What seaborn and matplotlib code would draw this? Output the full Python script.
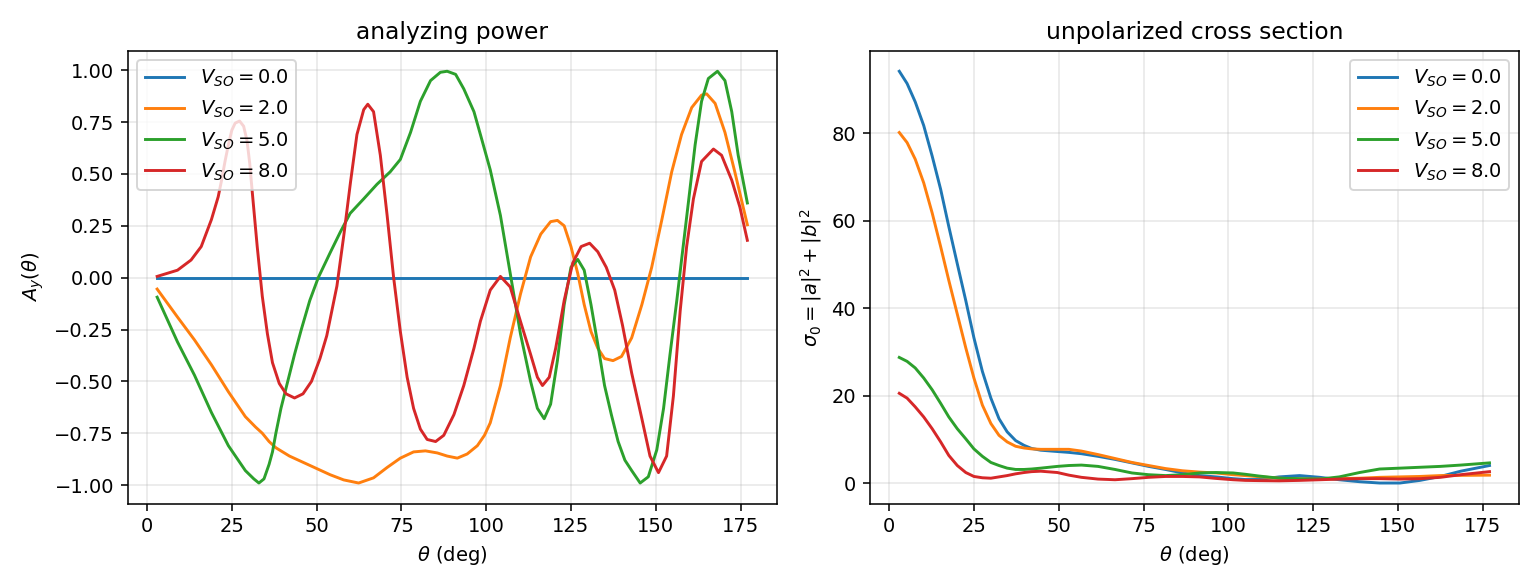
import numpy as np
import pandas as pd
import seaborn as sb
import matplotlib
matplotlib.use("Agg")
import matplotlib.pyplot as plt

# spin-orbit strengths
v_so = [0.0, 2.0, 5.0, 8.0]
labels = [r"$V_{SO} = %.1f$" % v for v in v_so]

# analyzing power A_y(theta)
ay_theta_0 = [3, 177]
ay_vals_0 = [0.0, 0.0]

ay_theta_2 = [3, 9, 14, 19, 24, 29, 32, 34, 36, 38, 42, 46, 50, 54, 58, 62.4, 66.8,
              70.8, 74.7, 78.6, 82.1, 85.6, 88.5, 91.5, 94.4, 97.4, 99.5, 101.2, 104.2,
              107.1, 110.1, 113.1, 116.1, 119, 121, 123, 125, 127, 128.9, 130.9, 132.9,
              134.9, 137.4, 139.9, 142.9, 145.9, 148.8, 151.8, 154.7, 157.6, 160.6,
              163.5, 165, 167.5, 170.4, 173.3, 177]
ay_vals_2 = [-0.055, -0.19, -0.30, -0.42, -0.55, -0.67, -0.72, -0.75, -0.79, -0.82,
             -0.86, -0.89, -0.92, -0.95, -0.975, -0.99, -0.965, -0.915, -0.87, -0.84,
             -0.835, -0.845, -0.86, -0.87, -0.85, -0.81, -0.76, -0.70, -0.52, -0.29,
             -0.08, 0.10, 0.21, 0.27, 0.276, 0.25, 0.15, 0.02, -0.13, -0.26, -0.34,
             -0.39, -0.40, -0.38, -0.29, -0.13, 0.05, 0.28, 0.51, 0.69, 0.82, 0.88,
             0.886, 0.84, 0.70, 0.51, 0.255]

ay_theta_5 = [3, 9, 14, 19, 24, 29, 31.5, 33, 34.5, 36, 37, 38, 39.5, 41.5, 43.5, 45.5,
              48, 50.5, 54, 57, 59.9, 63.9, 67.8, 71.7, 74.7, 77.7, 80.6, 83.6, 86.5,
              88.5, 91, 93.4, 96.4, 98.3, 101.2, 104.2, 107.1, 110.1, 113.1, 115.1,
              117.1, 119, 121, 123, 125, 127, 128.9, 130.9, 132.9, 134.9, 136.9, 138.9,
              140.9, 142.9, 145.4, 147.8, 150.3, 152.3, 154.2, 156.2, 157.6, 159.6,
              161.6, 163.5, 165.5, 168.2, 170.4, 172.4, 174.3, 177]
ay_vals_5 = [-0.094, -0.31, -0.47, -0.65, -0.81, -0.93, -0.97, -0.99, -0.97, -0.90,
             -0.84, -0.75, -0.63, -0.50, -0.37, -0.25, -0.11, 0.0, 0.12, 0.22, 0.31,
             0.38, 0.45, 0.51, 0.57, 0.70, 0.85, 0.95, 0.99, 0.995, 0.98, 0.91, 0.80,
             0.69, 0.52, 0.30, 0.02, -0.27, -0.50, -0.63, -0.68, -0.61, -0.40, -0.13,
             0.05, 0.088, 0.036, -0.13, -0.32, -0.52, -0.66, -0.79, -0.88, -0.93, -0.99,
             -0.96, -0.83, -0.63, -0.37, -0.11, 0.085, 0.36, 0.64, 0.85, 0.96, 0.995,
             0.95, 0.80, 0.59, 0.36]

ay_theta_8 = [3, 9, 13, 16, 19, 21, 22, 23, 24, 25, 26, 27.3, 28.5, 29.5, 30.3, 31, 32.5,
              34, 35.5, 37, 39, 41, 43.5, 46, 48.5, 51, 53, 54.5, 56, 58, 60, 61.9, 63.9,
              65.1, 66.8, 68.8, 70.8, 72.7, 74.7, 76.7, 78.6, 80.6, 82.6, 85.1, 87.5,
              90.5, 93.4, 96.4, 98.3, 101.2, 104.2, 107.1, 110.1, 113.1, 115.1, 116.6,
              118.6, 120.5, 123, 125.5, 128, 130.5, 132.9, 135.4, 137.9, 140.2, 142.9,
              145.9, 148.3, 150.8, 153.2, 155.2, 157.2, 159.1, 161.1, 163.5, 167, 169.4,
              172.4, 174.8, 177]
ay_vals_8 = [0.006, 0.036, 0.085, 0.15, 0.28, 0.39, 0.47, 0.56, 0.64, 0.71, 0.745, 0.755,
             0.73, 0.66, 0.55, 0.42, 0.15, -0.09, -0.27, -0.41, -0.51, -0.56, -0.58,
             -0.56, -0.50, -0.39, -0.28, -0.16, -0.04, 0.20, 0.46, 0.69, 0.81, 0.836,
             0.80, 0.59, 0.30, 0.003, -0.26, -0.48, -0.63, -0.73, -0.78, -0.79, -0.76,
             -0.66, -0.52, -0.34, -0.21, -0.06, 0.006, -0.045, -0.21, -0.37, -0.48,
             -0.52, -0.48, -0.34, -0.11, 0.07, 0.15, 0.166, 0.125, 0.05, -0.06, -0.23,
             -0.46, -0.68, -0.86, -0.94, -0.86, -0.57, -0.16, 0.15, 0.38, 0.56, 0.62,
             0.59, 0.47, 0.34, 0.18]

# unpolarized cross section sigma_0
xs_theta = [3, 5.3, 7.7, 10.2, 12.7, 15.2, 17.6, 20.1, 22.6, 25, 27.5, 30, 32.4, 34.8,
            37.3, 39.8, 42, 44.7, 49.6, 53, 56.7, 61.6, 66.6, 71.6, 76.5, 81.5, 86.5,
            91.5, 96.4, 101.4, 105, 109, 115, 121, 127, 132.7, 138.7, 144.6, 150.6,
            156.5, 162.5, 168.5, 177]
xs_vals_0 = [94.2, 91.4, 87.2, 81.8, 74.8, 67.2, 58.7, 50.2, 41.8, 33.3, 25.6, 19.5, 14.8,
             11.8, 9.8, 8.7, 8.0, 7.6, 7.3, 7.1, 6.8, 6.2, 5.5, 4.7, 3.9, 3.2, 2.4, 1.8,
             1.5, 1.1, 0.9, 0.9, 1.5, 1.8, 1.4, 0.85, 0.4, 0.1, 0.1, 0.7, 1.6, 2.8, 4.1]
xs_vals_2 = [80.2, 77.9, 74.1, 68.7, 61.8, 54.1, 46.4, 38.7, 31.0, 24.1, 17.9, 13.7, 11.0,
             9.5, 8.5, 8.1, 7.9, 7.8, 7.8, 7.8, 7.4, 6.6, 5.7, 4.8, 4.1, 3.4, 2.9, 2.6,
             2.4, 2.0, 1.8, 1.55, 1.2, 1.0, 1.0, 1.1, 1.2, 1.4, 1.5, 1.6, 1.8, 1.85, 1.9]
xs_vals_5 = [28.8, 27.9, 26.4, 24.1, 21.4, 18.3, 15.2, 12.5, 10.2, 7.9, 6.2, 4.8, 4.1,
             3.5, 3.2, 3.2, 3.3, 3.5, 3.9, 4.1, 4.2, 3.9, 3.2, 2.4, 2.0, 1.8, 2.0, 2.4,
             2.5, 2.4, 2.1, 1.7, 1.2, 1.1, 1.0, 1.5, 2.5, 3.3, 3.5, 3.7, 3.9, 4.2, 4.7]
xs_vals_8 = [20.6, 19.5, 17.5, 15.2, 12.5, 9.5, 6.4, 4.1, 2.5, 1.6, 1.3, 1.2, 1.5, 1.8,
             2.2, 2.5, 2.7, 2.8, 2.5, 1.9, 1.4, 1.0, 0.85, 1.1, 1.4, 1.6, 1.6, 1.5, 1.15,
             0.85, 0.7, 0.65, 0.6, 0.7, 0.85, 1.0, 1.1, 1.1, 1.0, 1.1, 1.4, 2.0, 2.7]

# long form tables for seaborn
ay_df = pd.concat([
    pd.DataFrame({"theta": t, "val": v, "label": lab})
    for t, v, lab in zip([ay_theta_0, ay_theta_2, ay_theta_5, ay_theta_8],
                         [ay_vals_0, ay_vals_2, ay_vals_5, ay_vals_8], labels)
], ignore_index=True)
xs_df = pd.concat([
    pd.DataFrame({"theta": xs_theta, "val": v, "label": lab})
    for v, lab in zip([xs_vals_0, xs_vals_2, xs_vals_5, xs_vals_8], labels)
], ignore_index=True)

colors = sb.color_palette("tab10", 4)

fig, axes = plt.subplots(1, 2, figsize=(11, 4.2), dpi=140)

ax = axes[0]
sb.lineplot(data=ay_df, x="theta", y="val", hue="label", hue_order=labels,
            palette=colors, estimator=None, linewidth=1.5, ax=ax)
ax.set_title("analyzing power")
ax.set_xlabel(r"$\theta$ (deg)")
ax.set_ylabel(r"$A_y(\theta)$")
ax.grid(alpha=0.3)
h, l = ax.get_legend_handles_labels()
ax.legend(h, l, loc="upper left")

ax = axes[1]
sb.lineplot(data=xs_df, x="theta", y="val", hue="label", hue_order=labels,
            palette=colors, estimator=None, linewidth=1.5, ax=ax)
ax.set_title("unpolarized cross section")
ax.set_xlabel(r"$\theta$ (deg)")
ax.set_ylabel(r"$\sigma_0 = |a|^2 + |b|^2$")
ax.grid(alpha=0.3)
h, l = ax.get_legend_handles_labels()
ax.legend(h, l, loc="upper right")

plt.tight_layout()
plt.savefig("out.png", dpi=140)
